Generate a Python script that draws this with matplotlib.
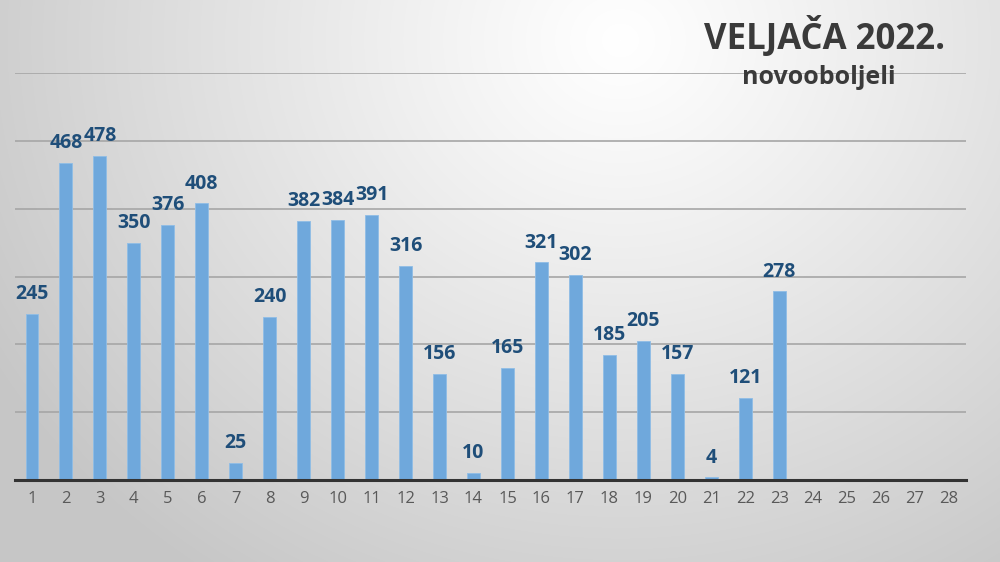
import numpy as np
import matplotlib
matplotlib.use("Agg")
import matplotlib.pyplot as plt

days = list(range(1, 29))
values = [245, 468, 478, 350, 376, 408, 25, 240, 382, 384, 391, 316, 156, 10,
          165, 321, 302, 185, 205, 157, 4, 121, 278]
title = "VELJAČA 2022."
subtitle = "novooboljeli"

W, H = 1000, 562
fig = plt.figure(figsize=(W / 100, H / 100), dpi=100)

# radial gradient background
bg = fig.add_axes([0, 0, 1, 1], zorder=0)
yy, xx = np.mgrid[0:H, 0:W]
d = np.sqrt(((xx - 620) / 1.0) ** 2 + ((yy - 40) / 0.9) ** 2)
t = np.clip(d / 720, 0, 1) ** 1.1
c0 = np.array([1.0, 1.0, 1.0])
c1 = np.array([0.78, 0.78, 0.78])
img = c0[None, None, :] * (1 - t[..., None]) + c1[None, None, :] * t[..., None]
bg.imshow(img, aspect="auto", extent=[0, W, H, 0])
bg.axis("off")

ax = fig.add_axes([0.015, 1 - 480 / H, 0.951, (480 - 73) / H], zorder=1)
ax.patch.set_alpha(0)
x = np.arange(1, len(values) + 1)
ax.bar(x, values, width=0.38, color="#6fa8dc", edgecolor="#8fbde6", linewidth=0.6, zorder=3)
for xi, v in zip(x, values):
    ax.annotate(str(v), (xi, v), xytext=(0, 7), textcoords="offset points",
                ha="center", va="bottom", fontsize=14, fontweight="bold",
                color="#1f4e79", family="Open Sans", zorder=4)

ax.set_xlim(0.5, 28.5)
ax.set_ylim(0, 600)
ax.set_yticks(np.arange(100, 601, 100))
ax.yaxis.grid(True, color="#a6a6a6", linewidth=1.2, zorder=1)
ax.set_xticks(days)
ax.set_xticklabels([str(d) for d in days], fontsize=12, color="#595959", family="Open Sans")
ax.tick_params(axis="x", length=0, pad=8)
ax.tick_params(axis="y", length=0, labelleft=False)
for s in ["top", "right", "left"]:
    ax.spines[s].set_visible(False)
ax.spines["bottom"].set_color("#333333")
ax.spines["bottom"].set_linewidth(2.2)
ax.spines["bottom"].set_zorder(5)

fig.text(825 / W, 1 - 37 / H, title, ha="center", va="center", fontsize=25,
         fontweight="bold", color="#3a3a3a", family="Open Sans", zorder=5)
fig.text(819 / W, 1 - 78 / H, subtitle, ha="center", va="center", fontsize=18,
         fontweight="bold", color="#3a3a3a", family="Open Sans", zorder=5)

fig.savefig("out.png", dpi=100)
